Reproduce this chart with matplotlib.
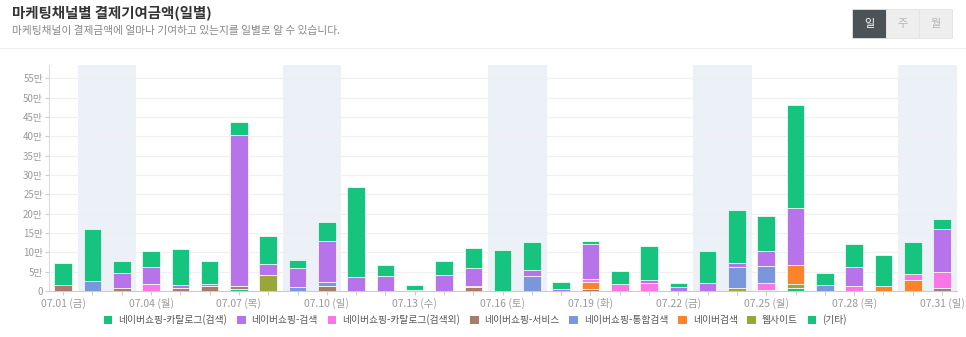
import numpy as np
import pandas as pd
import matplotlib
matplotlib.use("Agg")
import matplotlib.pyplot as plt
from matplotlib.patches import Rectangle, Patch
from matplotlib.lines import Line2D

plt.rcParams['font.family'] = ['Noto Sans CJK KR', 'DejaVu Sans']

# daily contribution per channel, unit: 만원 (10,000)
days = pd.date_range('2022-07-01', periods=31)
weekday_kr = ['월', '화', '수', '목', '금', '토', '일']

cat_search = [5.7, 13.3, 3.05, 4.05, 9.15, 6.05, 3.5, 7.2, 1.9, 4.75,
              23.3, 2.7, 1.15, 3.45, 5.05, 10.5, 7.2, 1.95, 0.65, 3.4,
              8.95, 1.05, 8.3, 13.65, 9.15, 26.6, 2.9, 6.05, 7.8, 8.25, 2.6]
shop_search = [0, 0, 3.9, 4.4, 0.85, 0.3, 39.0, 2.9, 4.9, 10.7,
               3.5, 3.9, 0.35, 4.2, 4.65, 0, 1.45, 0.45, 8.95, 0,
               0.6, 1.0, 2.05, 1.0, 3.8, 14.95, 0, 4.9, 0, 0, 11.1]
cat_other = [0, 0.1, 0, 1.8, 0, 0, 0, 0, 0, 0,
             0, 0, 0, 0, 0.3, 0, 0, 0, 0.8, 1.7,
             2.15, 0, 0, 0, 1.8, 0, 0, 1.2, 0.1, 1.55, 4.1]
shop_service = [1.5, 0, 0.8, 0, 0.8, 1.4, 0.75, 0, 0, 1.3,
                0, 0, 0, 0, 1.0, 0, 0, 0, 0.5, 0,
                0, 0, 0, 0, 0.35, 0, 0, 0, 0, 0, 0.8]
shop_total = [0, 2.6, 0, 0, 0, 0, 0, 0, 1.1, 1.0,
              0, 0, 0, 0, 0, 0, 3.95, 0, 0, 0,
              0, 0, 0, 5.3, 4.4, 0, 1.65, 0, 0, 0, 0]
naver_search = [0, 0, 0, 0, 0, 0, 0, 0, 0, 0,
                0, 0, 0, 0, 0, 0, 0, 0, 1.9, 0,
                0, 0, 0, 0, 0, 4.7, 0, 0, 1.3, 2.85, 0]
website = [0, 0, 0, 0, 0, 0, 0, 4.1, 0, 0,
           0, 0, 0, 0, 0, 0, 0, 0, 0, 0,
           0, 0, 0, 0.9, 0, 1.0, 0, 0, 0, 0, 0]
etc = [0, 0, 0, 0, 0, 0, 0.45, 0, 0, 0,
       0, 0, 0, 0, 0, 0, 0, 0, 0, 0,
       0, 0, 0, 0, 0, 0.9, 0, 0, 0, 0, 0]

legend_names = ['네이버쇼핑-카탈로그(검색)', '네이버쇼핑-검색', '네이버쇼핑-카탈로그(검색외)',
                '네이버쇼핑-서비스', '네이버쇼핑-통합검색', '네이버검색', '웹사이트', '(기타)']
legend_colors = ['#16c47f', '#b673ea', '#f976e6', '#a97c69',
                 '#7b97dc', '#fd8329', '#9aa53a', '#17c27d']

# stacking order, bottom to top
stack = [(etc, '#17c27d'), (shop_service, '#a97c69'), (website, '#9aa53a'),
         (naver_search, '#fd8329'), (cat_other, '#f976e6'), (shop_total, '#7b97dc'),
         (shop_search, '#b673ea'), (cat_search, '#16c47f')]

fig = plt.figure(figsize=(9.66, 3.37), dpi=100)
W, H = 966, 337

ax = fig.add_axes([48.5 / W, 1 - 291 / H, (956.7 - 48.5) / W, (291 - 65) / H])
x = np.arange(1, 32)

# weekend shading
for i, d in enumerate(days):
    if d.dayofweek >= 5:
        ax.axvspan(x[i] - 0.5, x[i] + 0.5, color='#ecf0f7', lw=0, zorder=0)

bottom = np.zeros(31)
for vals, col in stack:
    v = np.array(vals)
    ax.bar(x, v, width=0.6, bottom=bottom, color=col, edgecolor='#ffffff',
           linewidth=0.5, zorder=3)
    bottom += v

ax.set_xlim(0.5, 31.5)
ax.set_ylim(0, 58.4)

yt = np.arange(0, 56, 5)
ax.set_yticks(yt)
ax.set_yticklabels(['0'] + [f'{v}만' for v in yt[1:]])
ax.yaxis.grid(True, color='#f0f0f0', lw=0.9, zorder=1)
ax.set_axisbelow(True)

ax.set_xticks(x)
ax.set_xticklabels([f'{d:%m.%d} ({weekday_kr[d.dayofweek]})' if i % 3 == 0 else ''
                    for i, d in enumerate(days)])
ax.tick_params(axis='x', length=3, color='#cccccc', labelsize=7.5,
               labelcolor='#999999', pad=2)
ax.tick_params(axis='y', length=3, color='#cccccc', labelsize=7,
               labelcolor='#999999', pad=1)

for s in ['top', 'right']:
    ax.spines[s].set_visible(False)
ax.spines['left'].set_color('#dddddd')
ax.spines['bottom'].set_color('#cccccc')

# header
fig.text(12 / W, 1 - 14 / H, '마케팅채널별 결제기여금액(일별)', fontsize=10.4,
         weight='bold', color='#333333', va='center')
fig.text(12 / W, 1 - 31 / H, '마케팅채널이 결제금액에 얼마나 기여하고 있는지를 일별로 알 수 있습니다.',
         fontsize=7.7, color='#888888', va='center')
fig.add_artist(Line2D([0, 1], [1 - 48 / H, 1 - 48 / H], color='#eeeeee', lw=0.8))

# period toggle
btns = [('일', 852, 886, '#4b5357', '#ffffff'),
        ('주', 886, 919, '#eeeeee', '#b5b5b5'),
        ('월', 919, 952, '#eeeeee', '#b5b5b5')]
for label, x0, x1, bg, fg in btns:
    fig.add_artist(Rectangle((x0 / W, 1 - 38 / H), (x1 - x0) / W, 29 / H,
                             transform=fig.transFigure, facecolor=bg,
                             edgecolor='#e2e2e2', lw=0.6))
    fig.text((x0 + x1) / 2 / W, 1 - 23.5 / H, label, fontsize=8, color=fg,
             ha='center', va='center')

handles = [Patch(facecolor=c, edgecolor='none') for c in legend_colors]
fig.legend(handles, legend_names, loc='center', bbox_to_anchor=(0.492, 1 - 320 / H),
           ncol=8, frameon=False, fontsize=7, handlelength=0.9, handleheight=0.9,
           handletextpad=0.6, columnspacing=1.0, labelcolor='#555555')

fig.savefig('out.png', dpi=100)
